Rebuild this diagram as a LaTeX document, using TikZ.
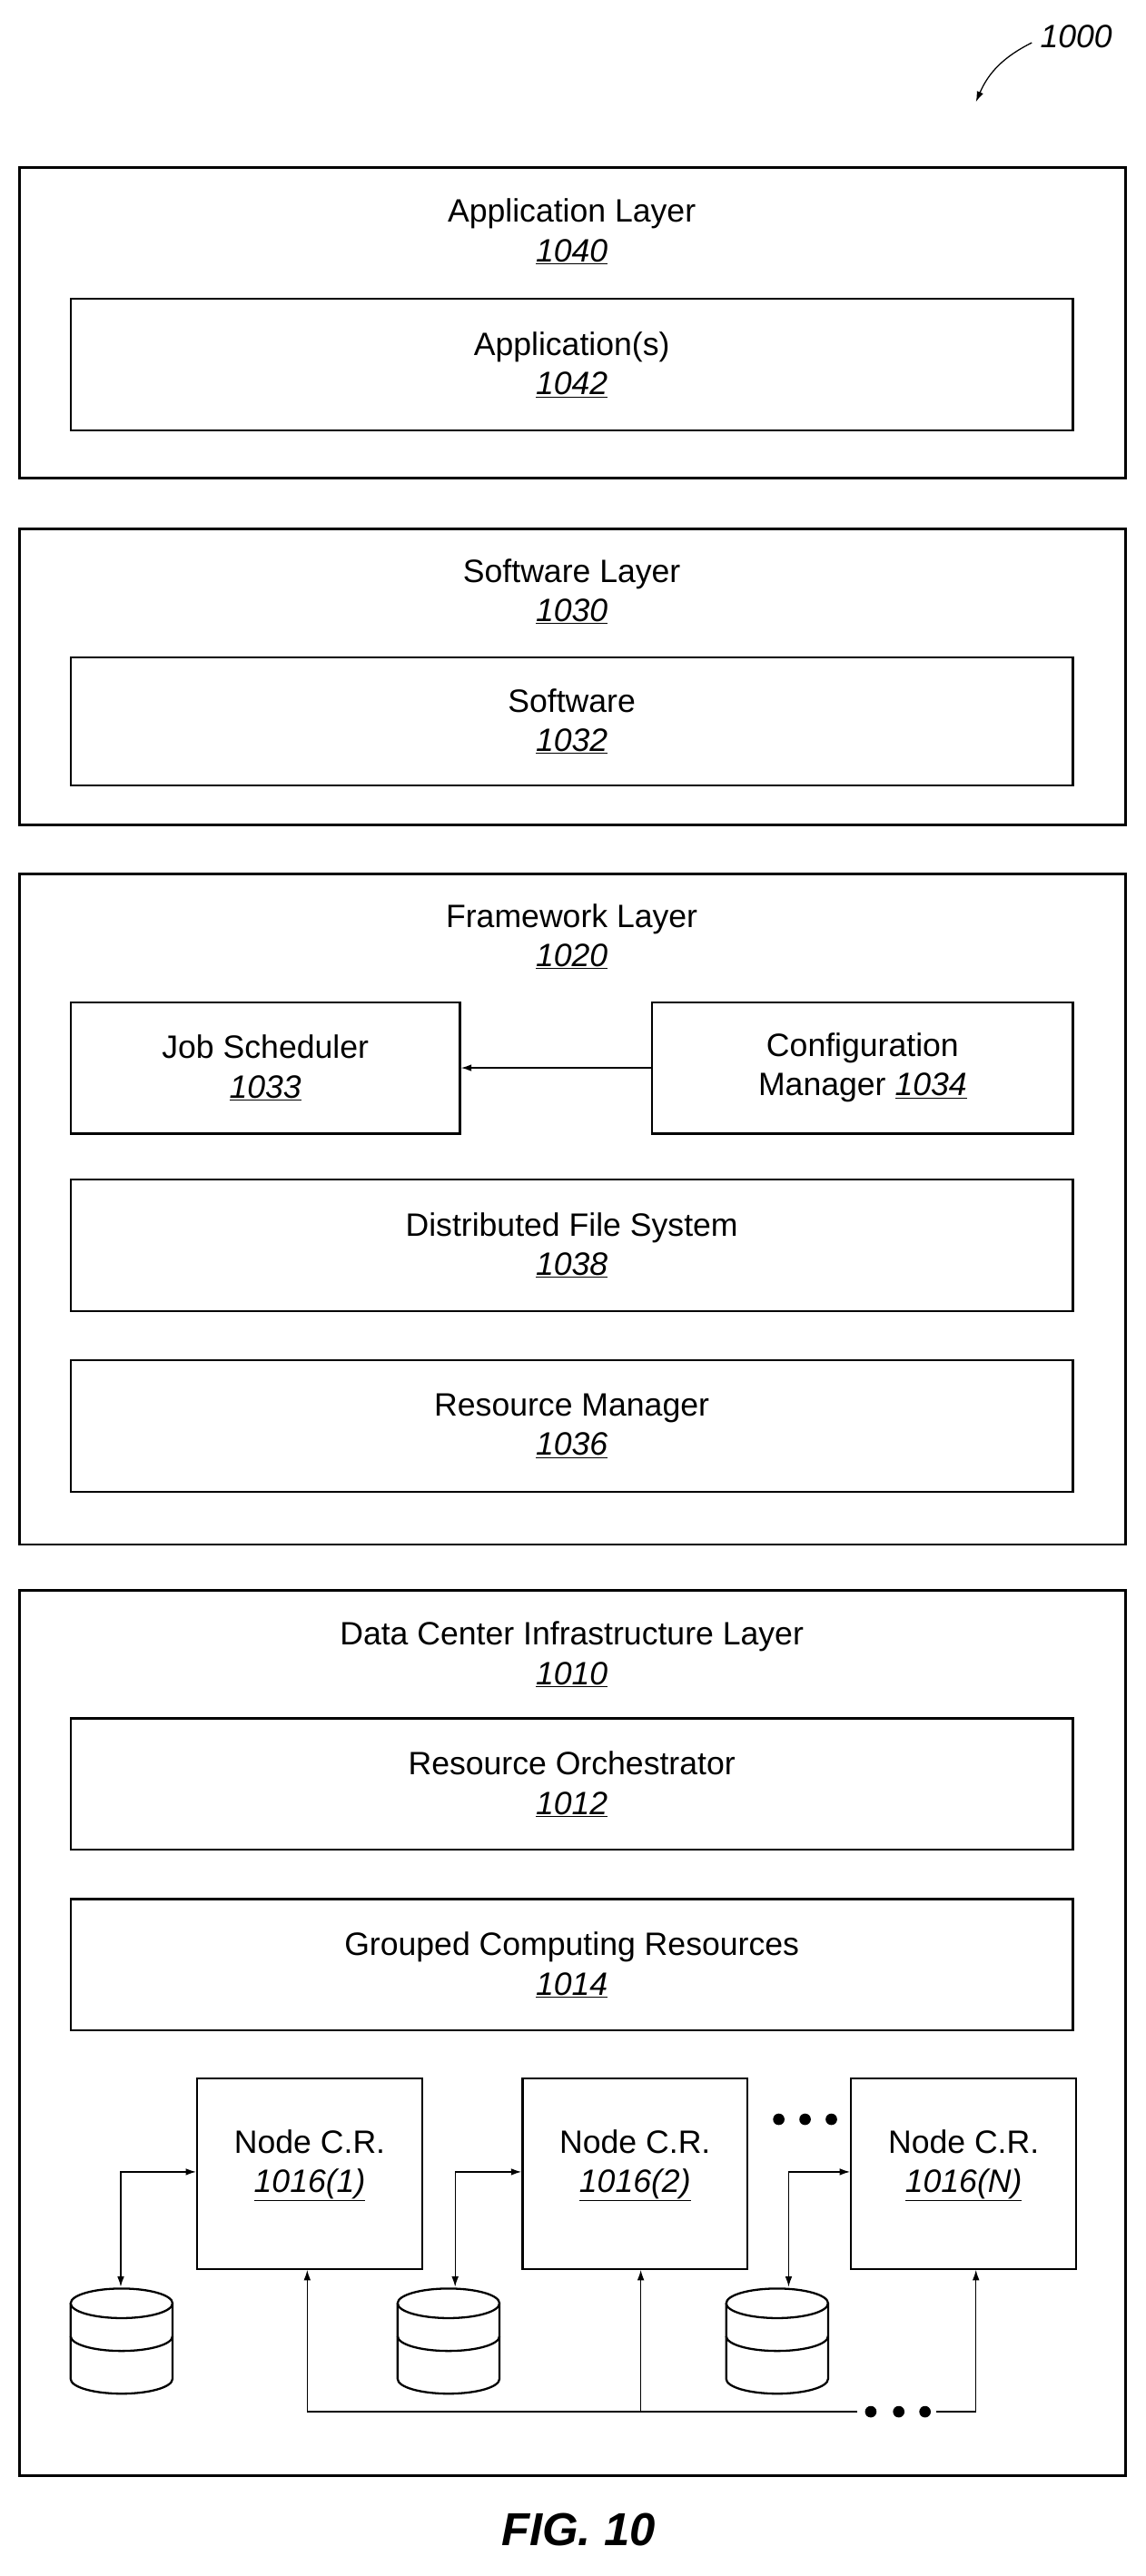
\documentclass[tikz,border=0pt]{standalone}
\usepackage{fontspec}
\setmainfont{Liberation Sans}
\usetikzlibrary{arrows.meta}
\usetikzlibrary{calc}
\usetikzlibrary{positioning}
\tikzset{layer/.style={draw=black,line width=2pt}}
\tikzset{block/.style={draw=black,line width=1.8pt,align=center,inner sep=0pt}}
\tikzset{arrow/.style={-{Latex[length=9pt,width=6pt]},line width=1pt}}
\tikzset{darrow/.style={{Latex[length=9pt,width=6pt]}-{Latex[length=9pt,width=6pt]},line width=1pt}}
\newcommand{\refn}[1]{\underline{\textit{#1}}}
\newcommand{\drum}[2]{
    \draw[line width=1.8pt] (#1-31,#2) -- (#1-31,#2+46) arc[start angle=180,end angle=0,x radius=31,y radius=9] -- (#1+31,#2);
    \draw[line width=1.8pt] (#1,#2) ellipse[x radius=31,y radius=9];
    \draw[line width=1.8pt] (#1-31,#2+20) arc[start angle=180,end angle=0,x radius=31,y radius=9];
}

\begin{document}
\begin{tikzpicture}[x=0.05cm,y=-0.05cm,font=\fontsize{28}{34}\selectfont]
        \useasboundingbox (0,0) rectangle (697,1568);

        % figure number
        \node (fig) at (655,22) {\textit{1000}};
        \coordinate (figtip) at (594,62);
        \draw[arrow] (628,26) to[bend right=20] (figtip);

        % application layer
        \draw[layer] (12,102) rectangle (685,291);
        \node[align=center] (app) at (348,141) {Application Layer\\\refn{1040}};
        \node[block,minimum width=610*0.05cm,minimum height=80*0.05cm] (apps) at (348,222) {Application(s)\\\refn{1042}};

        % software layer
        \draw[layer] (12,322) rectangle (685,502);
        \node[align=center] (sw) at (348,360) {Software Layer\\\refn{1030}};
        \node[block,minimum width=610*0.05cm,minimum height=78*0.05cm] (soft) at (348,439) {Software\\\refn{1032}};

        % framework layer
        \draw[layer] (12,532) rectangle (685,940);
        \node[align=center] (fw) at (348,570) {Framework Layer\\\refn{1020}};
        \node[block,minimum width=237*0.05cm,minimum height=80*0.05cm] (job) at (161.5,650) {Job Scheduler\\\refn{1033}};
        \node[block,minimum width=256*0.05cm,minimum height=80*0.05cm] (cfg) at (525,650) {Configuration\\Manager \refn{1034}};
        \node[block,minimum width=610*0.05cm,minimum height=80*0.05cm] (dfs) at (348,758) {Distributed File System\\\refn{1038}};
        \node[block,minimum width=610*0.05cm,minimum height=80*0.05cm] (rm) at (348,868) {Resource Manager\\\refn{1036}};
        \draw[arrow] (cfg) -- (job);

        % data center infrastructure layer
        \draw[layer] (12,968) rectangle (685,1507);
        \node[align=center] (dc) at (348,1007) {Data Center Infrastructure Layer\\\refn{1010}};
        \node[block,minimum width=610*0.05cm,minimum height=80*0.05cm] (ro) at (348,1086) {Resource Orchestrator\\\refn{1012}};
        \node[block,minimum width=610*0.05cm,minimum height=80*0.05cm] (gcr) at (348,1196) {Grouped Computing Resources\\\refn{1014}};

        \node[block,minimum width=137*0.05cm,minimum height=116*0.05cm] (ncr1) at (188.5,1323) {};
        \node[block,minimum width=137*0.05cm,minimum height=116*0.05cm] (ncr2) at (386.5,1323) {};
        \node[block,minimum width=137*0.05cm,minimum height=116*0.05cm] (ncrn) at (586.5,1323) {};
        \node[align=center] (t1) at (188.5,1318) {Node C.R.\\\refn{1016(1)}};
        \node[align=center] (t2) at (386.5,1318) {Node C.R.\\\refn{1016(2)}};
        \node[align=center] (tn) at (586.5,1318) {Node C.R.\\\refn{1016(N)}};
        \foreach \x in {474,490,506} \fill (\x,1290) circle (3.5);

        % storage
        \drum{74}{1402}
        \drum{273}{1402}
        \drum{473}{1402}
        \coordinate (db1) at (73.5,1392);
        \coordinate (db2) at (277,1392);
        \coordinate (dbn) at (480,1392);
        \draw[darrow] (db1) |- (ncr1.west |- 0,1322);
        \draw[darrow] (db2) |- (ncr2.west |- 0,1322);
        \draw[darrow] (dbn) |- (ncrn.west |- 0,1322);

        % bus
        \coordinate (bus1) at (187,1468);
        \coordinate (bus2) at (390,1468);
        \coordinate (busn) at (594,1468);
        \draw[line width=1pt] (bus1) -- (522,1468);
        \draw[line width=1pt] (570,1468) -- (busn);
        \foreach \x in {530,547,563} \fill (\x,1468) circle (3.5);
        \draw[arrow] (bus1) -- (bus1 |- ncr1.south);
        \draw[arrow] (bus2) -- (bus2 |- ncr2.south);
        \draw[arrow] (busn) -- (busn |- ncrn.south);

        \node[font=\fontsize{40}{48}\selectfont\bfseries\itshape] (cap) at (352,1540) {FIG. 10};
    \end{tikzpicture}
\end{document}
